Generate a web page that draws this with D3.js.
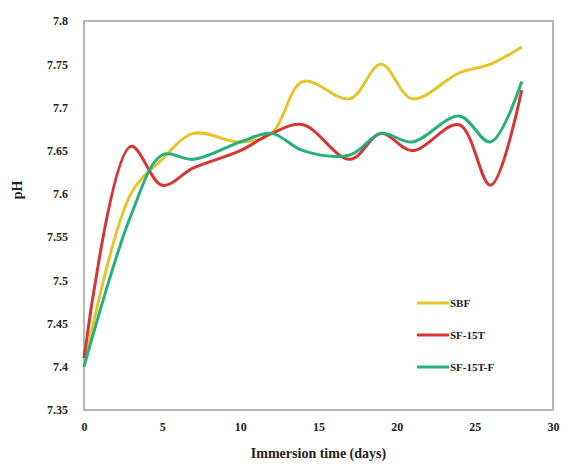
<!DOCTYPE html>
<html>
<head>
<meta charset="utf-8">
<script src="https://cdn.jsdelivr.net/npm/d3@7"></script>
<style>
  body { margin: 0; background: #fff; }
  text { font-family: "Liberation Serif", "DejaVu Serif", serif; font-weight: bold; fill: #222; }
</style>
</head>
<body>
<svg id="chart"></svg>
<script>
'use strict'

var WIDTH = 568,
	HEIGHT = 464;

// immersion days and pH readings per solution
var days = [0, 3, 5, 7, 10, 12, 14, 17, 19, 21, 24, 26, 28];
var sbf = [7.40, 7.60, 7.64, 7.67, 7.66, 7.67, 7.73, 7.71, 7.75, 7.71, 7.74, 7.75, 7.77];
var sf15t = [7.41, 7.655, 7.61, 7.63, 7.65, 7.67, 7.68, 7.64, 7.67, 7.65, 7.68, 7.61, 7.72];
var sf15tf = [7.40, 7.575, 7.645, 7.64, 7.66, 7.67, 7.65, 7.645, 7.67, 7.66, 7.69, 7.66, 7.73];

var seriesNames = ["SBF", "SF-15T", "SF-15T-F"];
var seriesColors = ["#e6c42c", "#d63636", "#27b07a"];

var xTicks = [0, 5, 10, 15, 20, 25, 30];
var yTicks = [7.35, 7.4, 7.45, 7.5, 7.55, 7.6, 7.65, 7.7, 7.75, 7.8];

var plotLeft = 84, plotRight = 553, plotTop = 21, plotBottom = 410;

var svg = d3.select("#chart")
	.attr("width", WIDTH)
	.attr("height", HEIGHT)

var x = d3.scaleLinear().domain([0, 30]).range([plotLeft, plotRight]);
var y = d3.scaleLinear().domain([7.35, 7.8]).range([plotBottom, plotTop]);

// plot area frame
svg.append("rect")
	.attr("x", plotLeft)
	.attr("y", plotTop)
	.attr("width", plotRight - plotLeft)
	.attr("height", plotBottom - plotTop)
	.style("fill", "none")
	.style("stroke", "#b5b5b5")
	.style("stroke-width", 2)

var xAxis = svg.append("g")
	.attr("transform", "translate(0," + plotBottom + ")")
	.call(d3.axisBottom(x).tickValues(xTicks).tickSize(0).tickPadding(12).tickFormat(d3.format("d")))
xAxis.select(".domain").remove()
xAxis.selectAll("text").style("font-size", "12px")

var yAxis = svg.append("g")
	.attr("transform", "translate(" + plotLeft + ",0)")
	.call(d3.axisLeft(y).tickValues(yTicks).tickSize(0).tickPadding(16).tickFormat(function (d) { return String(+d.toFixed(2)); }))
yAxis.select(".domain").remove()
yAxis.selectAll("text").style("font-size", "12px")

svg.append("text")
	.attr("x", (plotLeft + plotRight) / 2)
	.attr("y", 458)
	.style("text-anchor", "middle")
	.style("font-size", "14px")
	.text("Immersion time (days)")

svg.append("text")
	.attr("transform", "translate(22,190) rotate(-90)")
	.style("text-anchor", "middle")
	.style("font-size", "14px")
	.text("pH")

var line = d3.line()
	.x(function (d) { return x(d[0]); })
	.y(function (d) { return y(d[1]); })
	.curve(d3.curveCatmullRom.alpha(0.5))

var allSeries = [sbf, sf15t, sf15tf];

allSeries.forEach(function (vals, i) {
	svg.append("path")
		.datum(days.map(function (d, j) { return [d, vals[j]]; }))
		.attr("d", line)
		.style("fill", "none")
		.style("stroke", seriesColors[i])
		.style("stroke-width", 3)
		.style("stroke-linejoin", "round")
})

// legend
var legend = svg.append("g")
	.attr("transform", "translate(417,303)")

seriesNames.forEach(function (name, i) {
	var row = legend.append("g").attr("transform", "translate(0," + (i * 32) + ")")
	row.append("line")
		.attr("x1", 0).attr("x2", 32)
		.attr("y1", 0).attr("y2", 0)
		.style("stroke", seriesColors[i])
		.style("stroke-width", 3)
	row.append("text")
		.attr("x", 33)
		.attr("y", 4)
		.style("font-size", "11px")
		.text(name)
})
</script>
</body>
</html>
